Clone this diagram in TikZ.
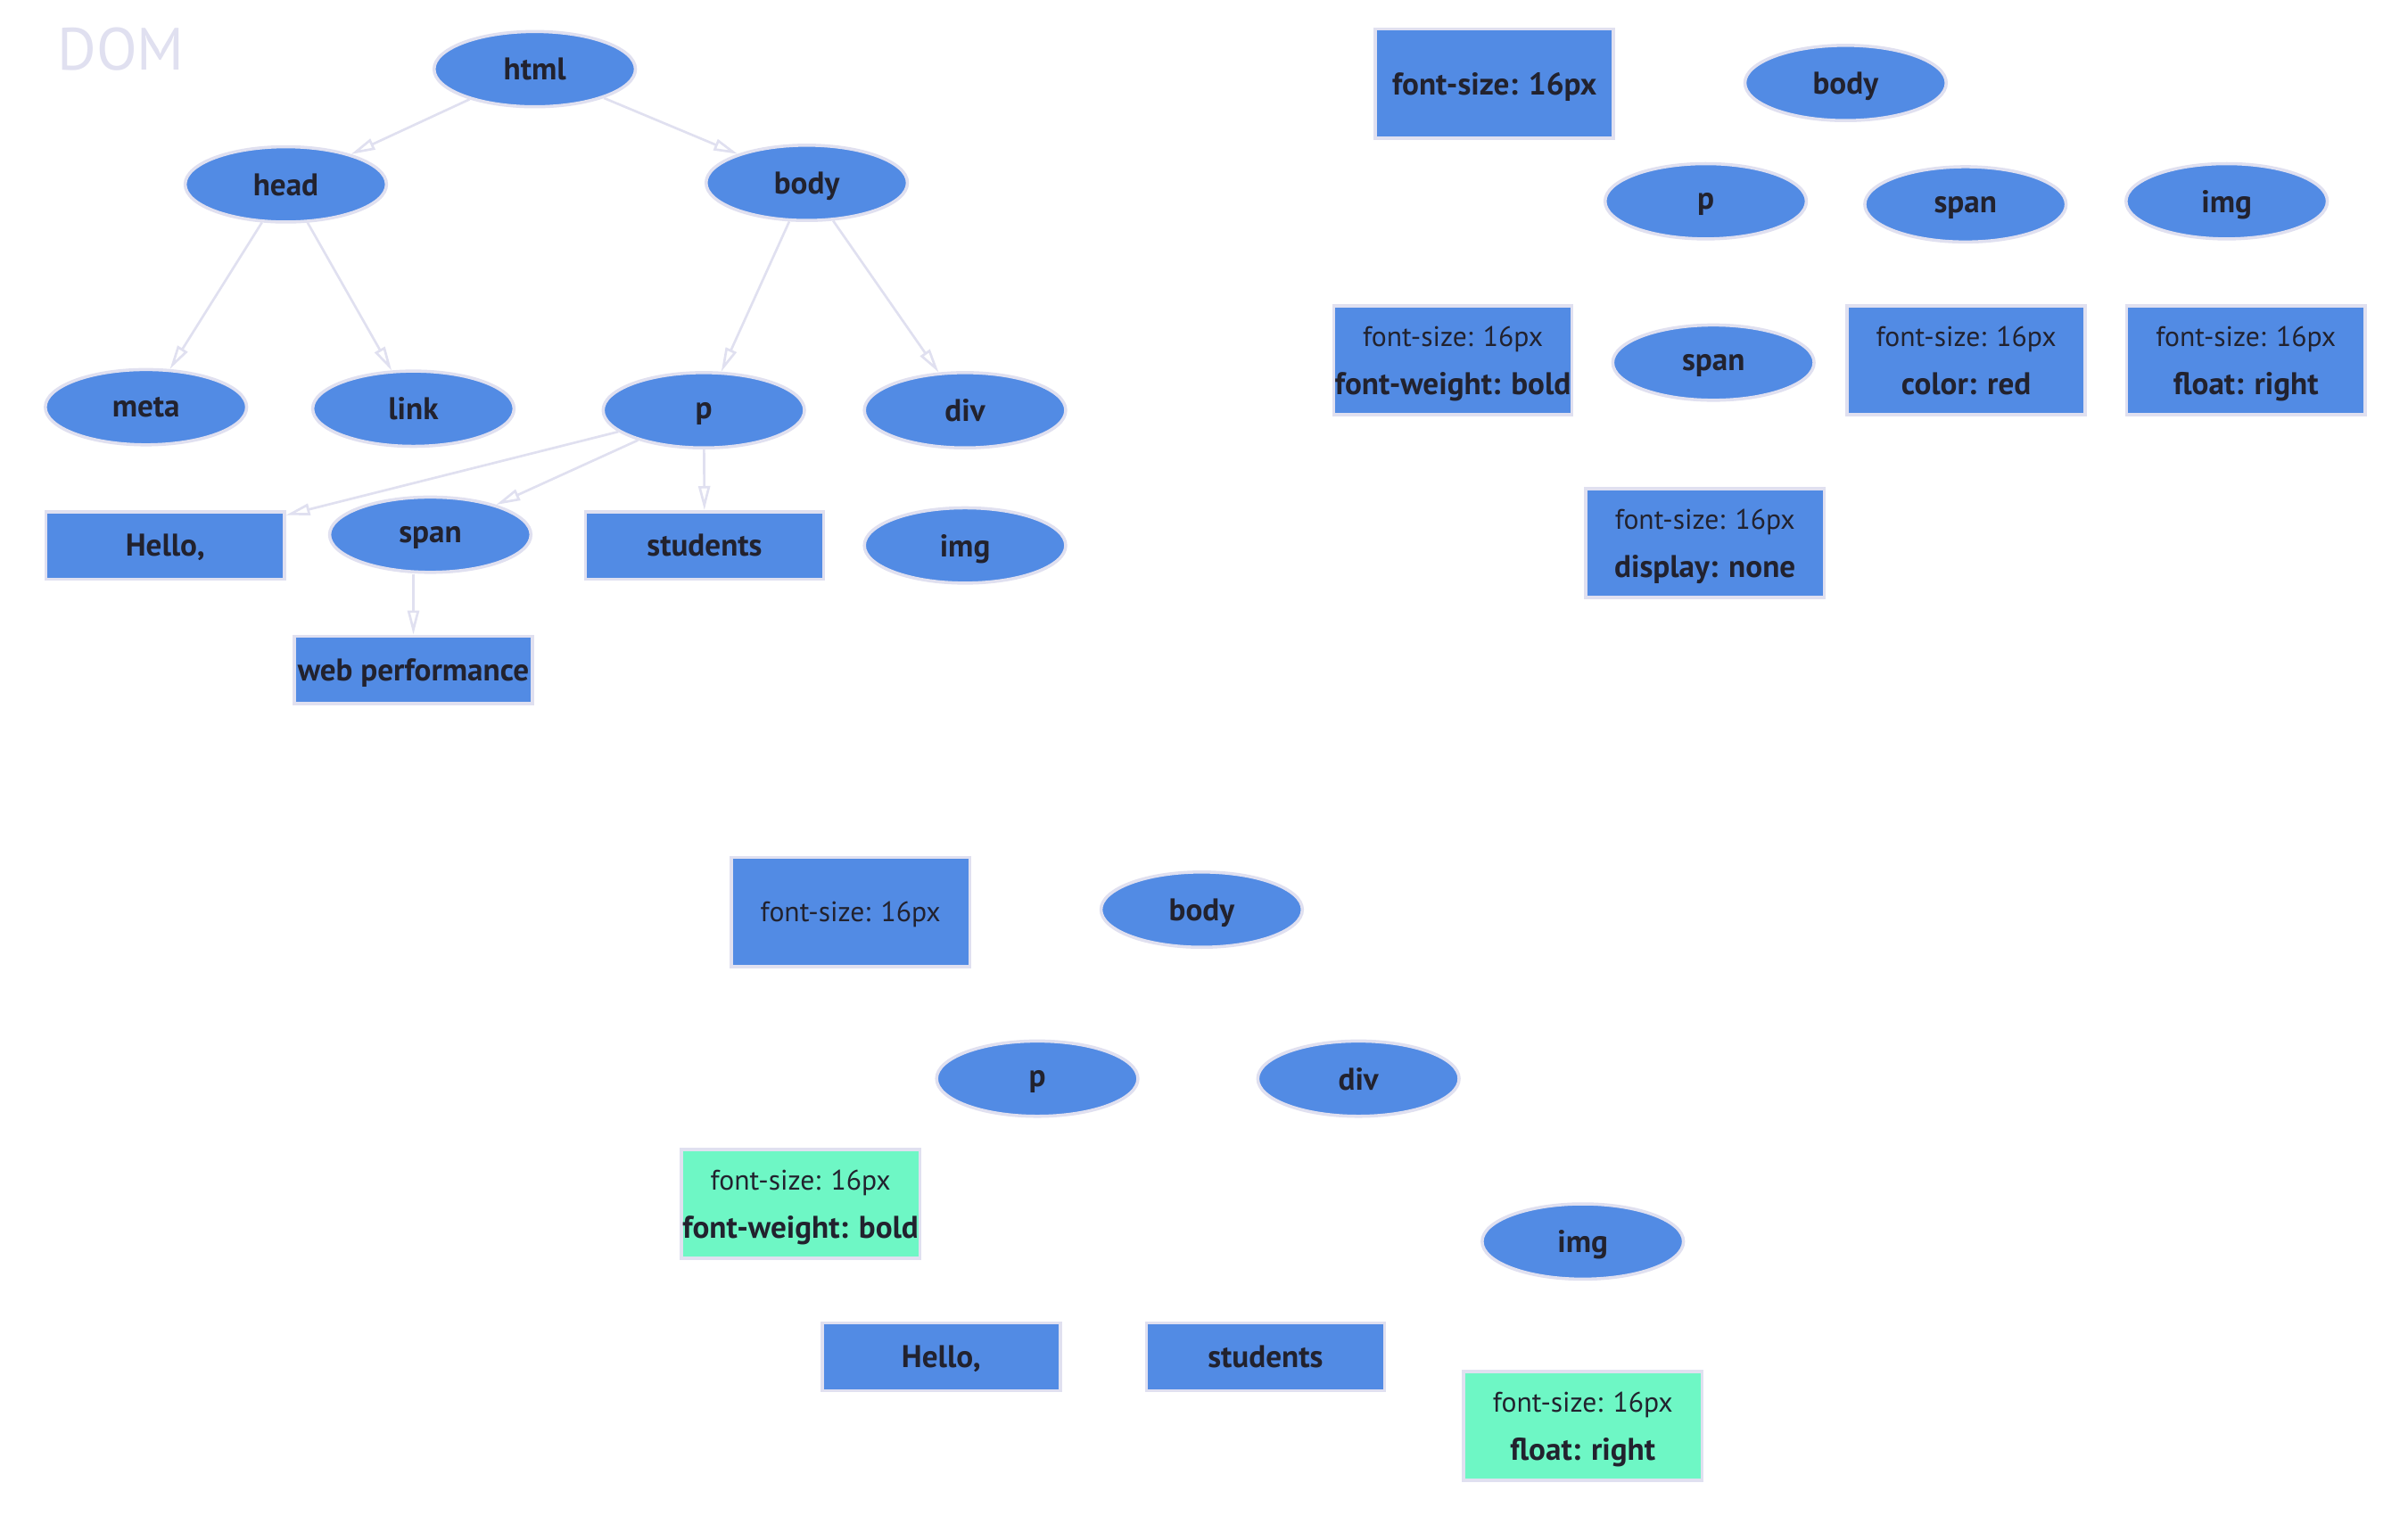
\documentclass[tikz,border=0pt]{standalone}
\usepackage{fontspec}
\setmainfont{PT Sans}
\usetikzlibrary{shapes.geometric,arrows.meta}
\definecolor{nblue}{RGB}{82,139,228}
\definecolor{ngreen}{RGB}{110,247,197}
\definecolor{edgec}{RGB}{224,224,240}
\definecolor{txt}{RGB}{34,34,46}
\newcommand{\boldline}[1]{{\fontsize{10}{15.3}\selectfont\bfseries #1}}
\begin{document}
\begin{tikzpicture}[x=0.01723cm,y=-0.01723cm,
 base/.style={draw=edgec, line width=1pt, text=txt, inner sep=0pt, text depth=0pt, font=\fontsize{9}{15.3}\selectfont},
 el/.style={base, ellipse, fill=nblue, minimum width=2.257cm, minimum height=0.844cm, font=\fontsize{10}{15.3}\selectfont\bfseries},
 rb/.style={base, rectangle, fill=nblue, minimum width=2.671cm, minimum height=0.758cm, font=\fontsize{10}{15.3}\selectfont\bfseries},
 rt/.style={base, rectangle, fill=nblue, minimum width=2.671cm, minimum height=1.223cm, align=center},
 two/.style={rt, execute at begin node={\rule{0pt}{0.32cm}}},
 gr/.style={two, fill=ngreen},
 ed/.style={draw=edgec, line width=0.75pt, -{Triangle[open,length=0.27cm,width=0.13cm]}}]
\useasboundingbox[fill=white] (0,0) rectangle (1567,986.6);
% DOM tree
\node[text=edgec, font=\fontsize{19}{22}\selectfont, anchor=west, inner sep=0pt] (domlabel) at (37,32) {DOM};
\node[el] (html) at (348,45) {html};
\node[el] (head) at (186,120) {head};
\node[el] (body) at (525,119) {body};
\node[el] (meta) at (95,265) {meta};
\node[el] (link) at (269,266) {link};
\node[el] (p) at (458,267) {p};
\node[el] (div) at (628,267) {div};
\node[rb] (hello) at (107.5,355) {Hello,};
\node[el] (span) at (280,348) {span};
\node[rb] (students) at (458.5,355) {students};
\node[el] (img) at (628,355) {img};
\node[rb] (web) at (269,436) {web performance};
\draw[ed] (html) -- (head);
\draw[ed] (html) -- (body);
\draw[ed] (head) -- (meta);
\draw[ed] (head) -- (link);
\draw[ed] (body) -- (p);
\draw[ed] (body) -- (div);
\draw[ed] (p) -- (hello);
\draw[ed] (p) -- (span);
\draw[ed] (p) -- (students);
\draw[ed] (span.south -| web.north) -- (web.north);
% Style tree (right)
\node[rt, font=\fontsize{10}{15.3}\selectfont\bfseries] (rfs) at (972.5,54.5) {font-size: 16px};
\node[el] (rbody) at (1201,54) {body};
\node[el] (rp) at (1110,131) {p};
\node[el] (rspan) at (1279,133) {span};
\node[el] (rimg) at (1449,131) {img};
\node[two] (rfw) at (945.5,234.5) {font-size: 16px\\\boldline{font-weight: bold}};
\node[el] (rspan2) at (1115,236) {span};
\node[two] (rcol) at (1279.5,234.5) {font-size: 16px\\\boldline{color: red}};
\node[two] (rfl) at (1461.5,234.5) {font-size: 16px\\\boldline{float: right}};
\node[two] (rdn) at (1109.5,353.5) {font-size: 16px\\\boldline{display: none}};
% Render tree (bottom)
\node[rt] (bfs) at (553.5,593.5) {font-size: 16px};
\node[el] (bbody) at (782,592) {body};
\node[el] (bp) at (675,702) {p};
\node[el] (bdiv) at (884,702) {div};
\node[gr] (bfw) at (521,783.5) {font-size: 16px\\\boldline{font-weight: bold}};
\node[el] (bimg) at (1030,808) {img};
\node[rb] (bhello) at (612.5,883) {Hello,};
\node[rb] (bstud) at (823.5,883) {students};
\node[gr] (bfl) at (1030,928) {font-size: 16px\\\boldline{float: right}};
\end{tikzpicture}
\end{document}
